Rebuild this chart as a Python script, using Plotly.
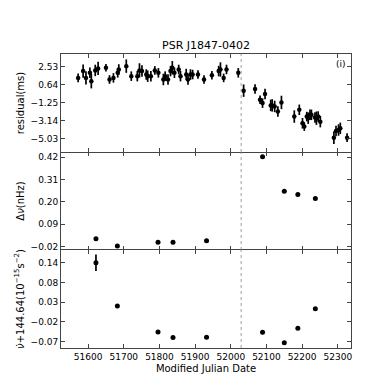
import plotly.graph_objects as go
from plotly.subplots import make_subplots

# Timing residuals (top panel)
res_mjd = [51572, 51586, 51594, 51605, 51609, 51620, 51628, 51650, 51660, 51671,
           51683, 51686, 51707, 51721, 51738, 51744, 51751, 51763, 51767, 51776,
           51787, 51797, 51811, 51816, 51824, 51831, 51836, 51842, 51854, 51859,
           51875, 51880, 51887, 51893, 51908, 51925, 51947, 51966, 51971, 51980,
           51988, 52021, 52036, 52068, 52082, 52089, 52096, 52112, 52116, 52123,
           52132, 52142, 52178, 52192, 52201, 52206, 52213, 52217, 52222, 52226,
           52236, 52240, 52245, 52251, 52289, 52295, 52302, 52307, 52326]
res_val = [1.33, 2.04, 1.33, 1.86, 0.98, 2.11, 2.32, 2.39, 1.16, 1.33,
           1.86, 2.21, 2.56, 1.51, 1.51, 2.11, 2.04, 1.68, 1.51, 1.51,
           2.11, 1.86, 1.16, 1.51, 1.16, 2.04, 2.39, 1.86, 2.21, 1.51,
           1.68, 1.16, 1.68, 1.68, 1.68, 1.16, 1.61, 2.04, 2.21, 1.33,
           2.21, 1.86, -0.01, 0.17, -0.96, -1.31, -0.36, -1.55, -1.55, -1.66,
           -2.19, -1.24, -2.72, -2.01, -3.42, -3.77, -2.72, -2.89, -2.54, -2.54,
           -2.82, -2.89, -2.72, -3.25, -4.93, -4.23, -4.13, -3.95, -4.93]
res_err = [0.45, 0.7, 0.7, 0.55, 0.75, 0.6, 0.7, 0.4, 0.45, 0.5,
           0.5, 0.55, 0.7, 0.5, 0.55, 0.75, 0.6, 0.55, 0.6, 0.55,
           0.45, 0.5, 0.6, 0.5, 0.55, 0.55, 0.7, 0.55, 0.5, 0.55,
           0.6, 0.55, 0.55, 0.5, 0.45, 0.45, 0.45, 0.55, 0.75, 0.45,
           0.5, 0.5, 0.65, 0.5, 0.45, 0.5, 0.55, 0.6, 0.65, 0.6,
           0.55, 0.7, 0.65, 0.55, 0.55, 0.45, 0.5, 0.6, 0.55, 0.55,
           0.55, 0.7, 0.55, 0.6, 0.65, 0.55, 0.6, 0.6, 0.45]

# Frequency and frequency-derivative measurements
fit_mjd = [51622, 51682, 51796, 51838, 51932, 52089, 52150, 52188, 52237]
dnu_val = [0.018, -0.018, 0.0, 0.0, 0.007, 0.421, 0.251, 0.236, 0.216]
nudot_val = [0.138, 0.022, -0.047, -0.062, -0.061, -0.048, -0.076, -0.037, 0.015]
nudot_err = [0.022, 0.001, 0.001, 0.001, 0.001, 0.005, 0.001, 0.001, 0.001]

glitch_mjd = 52029

res_ticks = [2.53, 0.64, -1.25, -3.14, -5.03]
res_ticktext = ["2.53", "0.64", "\u22121.25", "\u22123.14", "\u22125.03"]
dnu_ticks = [-0.02, 0.09, 0.20, 0.31, 0.42]
dnu_ticktext = ["\u22120.02", "0.09", "0.20", "0.31", "0.42"]
nudot_ticks = [-0.0725, -0.02, 0.0325, 0.085, 0.1375]
nudot_ticktext = ["\u22120.07", "\u22120.02", "0.03", "0.08", "0.14"]
x_ticks = [51600, 51700, 51800, 51900, 52000, 52100, 52200, 52300]
x_ticktext = [str(v) for v in x_ticks]

FONT = "DejaVu Sans"
BLACK = "#000000"

fig = make_subplots(rows=3, cols=1, shared_xaxes=True, vertical_spacing=0)

fig.add_trace(go.Scatter(
    x=res_mjd, y=res_val, mode="markers",
    marker=dict(color=BLACK, size=4.5),
    error_y=dict(type="data", array=res_err, color=BLACK, thickness=1.7, width=0),
    showlegend=False), row=1, col=1)

fig.add_trace(go.Scatter(
    x=fit_mjd, y=dnu_val, mode="markers",
    marker=dict(color=BLACK, size=5),
    showlegend=False), row=2, col=1)

fig.add_trace(go.Scatter(
    x=fit_mjd, y=nudot_val, mode="markers",
    marker=dict(color=BLACK, size=5),
    error_y=dict(type="data", array=nudot_err, color=BLACK, thickness=1.7, width=0),
    showlegend=False), row=3, col=1)

for r in (1, 2, 3):
    fig.add_vline(x=glitch_mjd, line=dict(color="#888888", width=0.8, dash="dot"), row=r, col=1)

axis_common = dict(linecolor="#444444", linewidth=1, mirror="ticks",
                   ticks="inside", ticklen=4, tickcolor="#444444", showgrid=False,
                   zeroline=False, tickfont=dict(family=FONT, size=9, color=BLACK))

for r in (1, 2, 3):
    fig.update_xaxes(range=[51524, 52337], tickvals=x_ticks, ticktext=x_ticktext,
                     showline=(r != 2), **axis_common, row=r, col=1)
fig.update_xaxes(showticklabels=False, row=1, col=1)
fig.update_xaxes(showticklabels=False, row=2, col=1)
fig.update_xaxes(title=dict(text="Modified Julian Date", font=dict(family=FONT, size=10, color=BLACK),
                            standoff=4), row=3, col=1)

fig.update_yaxes(range=[-6.43, 3.83], tickvals=res_ticks, ticktext=res_ticktext, showline=True,
                 title=dict(text="residual(ms)", font=dict(family=FONT, size=10, color=BLACK), standoff=4),
                 **axis_common, row=1, col=1)
fig.update_yaxes(range=[-0.038, 0.445], tickvals=dnu_ticks, ticktext=dnu_ticktext, showline=True,
                 title=dict(text="\u0394<i>\u03bd</i>(nHz)", font=dict(family=FONT, size=10, color=BLACK), standoff=4),
                 **axis_common, row=2, col=1)
fig.update_yaxes(range=[-0.090, 0.172], tickvals=nudot_ticks, ticktext=nudot_ticktext, showline=True,
                 title=dict(text="<i>\u03bd\u0307</i>+144.64(10<sup>\u221215</sup>s<sup>\u22122</sup>)",
                            font=dict(family=FONT, size=10, color=BLACK), standoff=4),
                 **axis_common, row=3, col=1)

fig.add_annotation(text="(i)", xref="x domain", yref="y domain", x=0.99, y=0.97,
                   xanchor="right", yanchor="top", showarrow=False,
                   font=dict(family=FONT, size=9, color=BLACK), row=1, col=1)

fig.update_layout(
    width=382, height=382,
    margin=dict(l=48, r=39, t=46, b=42),
    paper_bgcolor="white", plot_bgcolor="white",
    title=dict(text="PSR J1847-0402", x=0.5, xanchor="center", xref="paper",
               y=1 - 37 / 382, yanchor="middle",
               font=dict(family=FONT, size=11, color=BLACK)),
)

fig.write_html("out.html")
